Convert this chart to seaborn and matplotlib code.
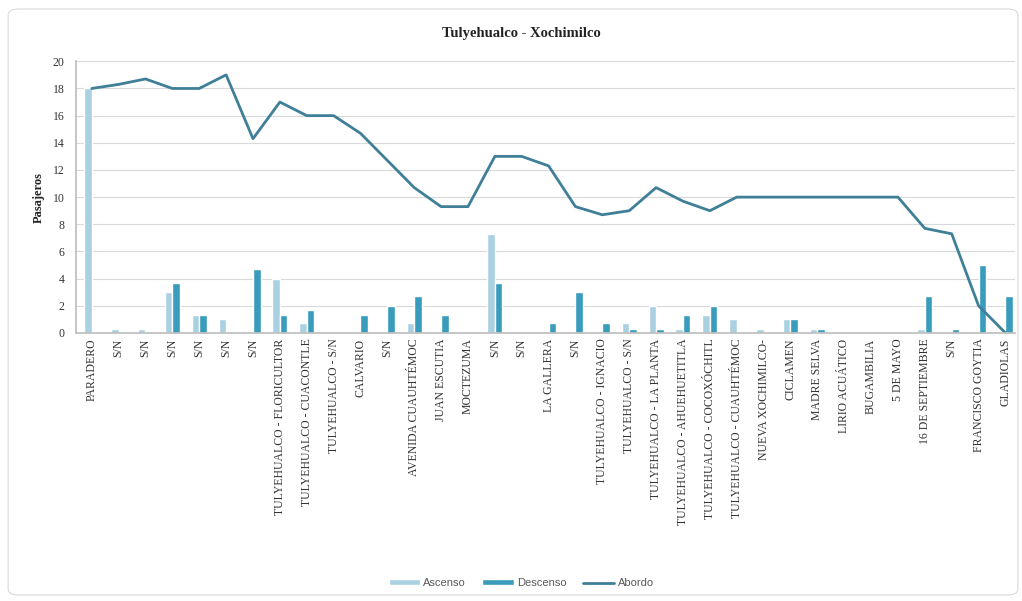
import matplotlib
matplotlib.use("Agg")
import matplotlib.pyplot as plt
from matplotlib.patches import FancyBboxPatch
from matplotlib.lines import Line2D
from matplotlib.patches import Patch
import seaborn as sns
import pandas as pd
import numpy as np

paradas = ["PARADERO", "S/N", "S/N", "S/N", "S/N", "S/N", "S/N",
           "TULYEHUALCO - FLORICULTOR", "TULYEHUALCO - CUACONTLE", "TULYEHUALCO - S/N",
           "CALVARIO", "S/N", "AVENIDA CUAUHTÉMOC", "JUAN ESCUTIA", "MOCTEZUMA",
           "S/N", "S/N", "LA GALLERA", "S/N", "TULYEHUALCO - IGNACIO", "TULYEHUALCO - S/N",
           "TULYEHUALCO - LA PLANTA", "TULYEHUALCO - AHUEHUETITLA", "TULYEHUALCO - COCOXÓCHITL",
           "TULYEHUALCO - CUAUHTÉMOC", "NUEVA XOCHIMILCO-", "CICLAMEN", "MADRE SELVA",
           "LIRIO ACUÁTICO", "BUGAMBILIA", "5 DE MAYO", "16 DE SEPTIEMBRE", "S/N",
           "FRANCISCO GOYTIA", "GLADIOLAS"]
ascenso = [18, 0.3, 0.3, 3, 1.3, 1, 0, 4, 0.7, 0, 0, 0, 0.7, 0, 0,
           7.3, 0, 0, 0, 0, 0.7, 2, 0.3, 1.3, 1, 0.3, 1, 0.3, 0, 0, 0, 0.3, 0, 0, 0]
descenso = [0, 0, 0, 3.7, 1.3, 0, 4.7, 1.3, 1.7, 0, 1.3, 2, 2.7, 1.3, 0,
            3.7, 0, 0.7, 3, 0.7, 0.3, 0.3, 1.3, 2, 0, 0, 1, 0.3, 0, 0, 0, 2.7, 0.3, 5, 2.7]
abordo = [18, 18.3, 18.7, 18, 18, 19, 14.3, 17, 16, 16, 14.7, 12.7, 10.7, 9.3, 9.3,
          13, 13, 12.3, 9.3, 8.7, 9, 10.7, 9.7, 9, 10, 10, 10, 10, 10, 10, 10, 7.7, 7.3, 2, 0]

c_asc = "#a9d1e1"
c_desc = "#3a9cbc"
c_line = "#3f7f98"

sns.set_theme(style="white")
plt.rcParams["font.family"] = ["Liberation Serif", "DejaVu Serif"]

n = len(paradas)
pos = list(range(n))
df = pd.DataFrame({
    "pos": pos * 2,
    "valor": ascenso + descenso,
    "serie": ["Ascenso"] * n + ["Descenso"] * n,
})

fig = plt.figure(figsize=(10.22, 6.01), dpi=100)
ax = fig.add_axes([0.074, 0.446, 0.919, 0.452])

sns.barplot(data=df, x="pos", y="valor", hue="serie", order=pos,
            palette={"Ascenso": c_asc, "Descenso": c_desc}, width=0.56,
            dodge=True, legend=False, ax=ax, saturation=1)
sns.lineplot(x=pos, y=abordo, color=c_line, linewidth=2, ax=ax)

ax.set_xlim(-0.6, n - 0.65)
ax.set_ylim(0, 20)
ax.set_yticks(range(0, 21, 2))
ax.yaxis.grid(True, color="#d9d9d9", linewidth=0.8)
ax.set_axisbelow(True)
ax.set_xticks(pos)
ax.set_xticklabels(paradas, rotation=90, fontsize=8.5, color="#333333")
ax.tick_params(axis="y", labelsize=8.5, colors="#333333", length=0, pad=8)
ax.tick_params(axis="x", length=0, pad=4)
for s in ["top", "right"]:
    ax.spines[s].set_visible(False)
ax.spines["left"].set_color("#bfbfbf")
ax.spines["bottom"].set_color("#bfbfbf")
ax.set_xlabel("")
ax.set_ylabel("Pasajeros", fontsize=9, fontweight="bold", color="#222222", labelpad=6)

fig.text(0.51, 0.945, "Tulyehualco - Xochimilco", ha="center", va="center",
         fontsize=10.5, fontweight="bold", color="#222222")

handles = [Patch(facecolor=c_asc, label="Ascenso"),
           Patch(facecolor=c_desc, label="Descenso"),
           Line2D([0], [0], color=c_line, linewidth=2, label="Abordo")]
leg = fig.legend(handles=handles, loc="center", bbox_to_anchor=(0.51, 0.03), ncol=3,
                 frameon=False, handlelength=2.8, handleheight=0.35,
                 columnspacing=1.5, handletextpad=0.3,
                 prop={"family": "Liberation Sans", "size": 8})
for t in leg.get_texts():
    t.set_color("#595959")

border = FancyBboxPatch((0.008, 0.01), 0.988, 0.975, boxstyle="round,pad=0,rounding_size=0.01",
                        transform=fig.transFigure, fill=False, edgecolor="#d9d9d9",
                        linewidth=0.8)
fig.patches.append(border)

fig.savefig("out.png", dpi=100)
